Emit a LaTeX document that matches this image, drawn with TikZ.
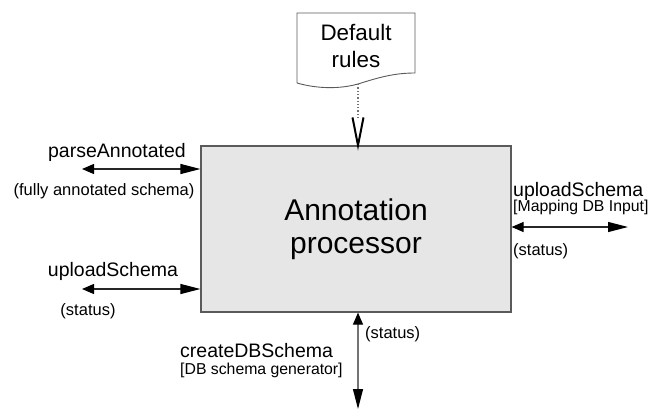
\documentclass[tikz,border=0pt]{standalone}
\usepackage{fontspec}
\setmainfont{Liberation Sans}
\usetikzlibrary{arrows.meta}
\definecolor{boxfill}{HTML}{E6E6E6}
\definecolor{boxline}{HTML}{5A5A5A}
\tikzset{
  lbl/.style={inner sep=0pt, font=\fontsize{19.5}{22}\selectfont},
  sub/.style={inner sep=0pt, font=\fontsize{16.5}{19}\selectfont},
  brk/.style={inner sep=0pt, font=\fontsize{15.8}{18}\selectfont},
  flow/.style={line width=1.2pt, draw=black!85,
    {Triangle[length=12pt,width=10pt,color=black]}-{Triangle[length=20pt,width=10pt,color=black]}},
}
\begin{document}
\begin{tikzpicture}[x=1pt,y=-1pt]
\useasboundingbox (0,0) rectangle (656,410);
% main box
\node[draw=boxline, fill=boxfill, line width=1.2pt, minimum width=310pt, minimum height=166pt,
      inner sep=0pt, align=center, font=\fontsize{30}{33}\selectfont]
  (box) at (356,229) {Annotation\\processor};
% document
\coordinate (dtl) at (297,13);
\coordinate (dtr) at (415,13);
\coordinate (dbr) at (415,73);
\coordinate (dbl) at (297,83);
\coordinate (dwm) at (358,84);
\draw[boxline, line width=0.9pt] (dbl) -- (dtl) -- (dtr) -- (dbr)
  .. controls (395,73) and (380,77) .. (dwm)
  .. controls (340,89) and (318,89) .. (dbl);
\node[inner sep=0pt, align=center, font=\fontsize{22.4}{27}\selectfont] (doc) at (356,46) {Default\\rules};
% dotted link with open V head
\coordinate (vtip) at (box.north -| dwm);
\draw[black!55, line width=1.3pt, dotted] (dwm) -- ([yshift=28pt]vtip);
\draw[black, line width=2pt, line join=miter] ([xshift=-5.5pt,yshift=28pt]vtip) -- (vtip) -- ([xshift=5.5pt,yshift=28pt]vtip);
% left arrows
\coordinate (paL) at (82,169);
\coordinate (upL) at (82,289);
\draw[flow] (paL) -- (paL -| box.west);
\draw[flow] (upL) -- (upL -| box.west);
% right arrow
\coordinate (upR) at (628,227);
\draw[flow] (upR -| box.east) -- (upR);
% bottom arrow
\coordinate (cdB) at (358,409);
\draw[flow, draw=black!55] (cdB |- box.south) -- (cdB);
% labels
\node[lbl, anchor=base] (tpa) at (117,157) {parseAnnotated};
\node[sub, anchor=base] (tpas) at (104,195) {(fully annotated schema)};
\node[lbl, anchor=base] (tupl) at (113,276) {uploadSchema};
\node[sub, anchor=base] (tupls) at (88,315) {(status)};
\node[lbl, anchor=base west] (tupr) at (513,196) {uploadSchema};
\node[brk, anchor=base west] (tuprb) at (513,211) {[Mapping DB Input]};
\node[sub, anchor=base west] (tuprs) at (513,255) {(status)};
\node[sub, anchor=base west] (tcds) at (365,338) {(status)};
\node[lbl, anchor=base west] (tcd) at (180,357) {createDBSchema};
\node[brk, anchor=base west] (tcdb) at (180,374) {[DB schema generator]};
\end{tikzpicture}
\end{document}
